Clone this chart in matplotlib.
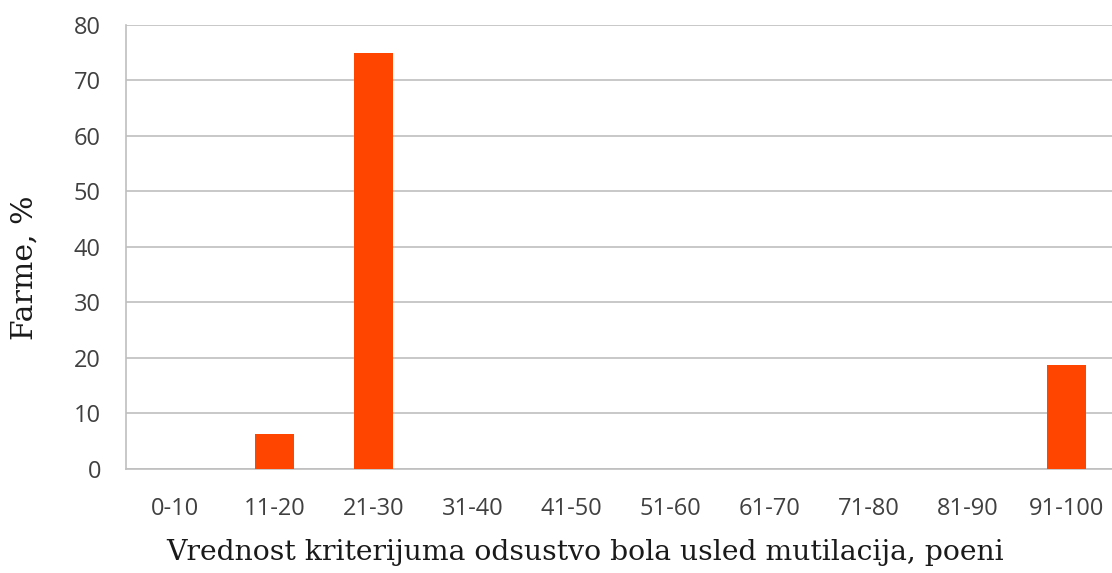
import matplotlib
matplotlib.use('Agg')
import matplotlib.pyplot as plt

categories = ['0-10', '11-20', '21-30', '31-40', '41-50', '51-60',
              '61-70', '71-80', '81-90', '91-100']
farme_pct = [0, 6.25, 75, 0, 0, 0, 0, 0, 0, 18.75]
y_ticks = [0, 10, 20, 30, 40, 50, 60, 70, 80]

fig = plt.figure(figsize=(11.12, 5.73), dpi=100)
ax = fig.add_axes([0.1133, 0.1815, 0.8903, 0.7749])

ax.bar(categories, farme_pct, width=0.4, color='#FF4500', zorder=3)

ax.set_ylim(0, 80)
ax.set_xlim(-0.5, len(categories) - 0.5)
ax.set_yticks(y_ticks)
ax.grid(axis='y', color='#BFBFBF', linewidth=1.2, zorder=0)

for side in ['top', 'right']:
    ax.spines[side].set_visible(False)
ax.spines['left'].set_color('#BFBFBF')
ax.spines['bottom'].set_color('#BFBFBF')
ax.spines['left'].set_linewidth(1.2)
ax.spines['bottom'].set_linewidth(1.2)

ax.tick_params(length=0, labelsize=17, labelcolor='#404040')
ax.tick_params(axis='x', pad=20)
ax.tick_params(axis='y', pad=18)
for lbl in ax.get_xticklabels() + ax.get_yticklabels():
    lbl.set_family('Open Sans')

ax.set_xlabel('Vrednost kriterijuma odsustvo bola usled mutilacija, poeni',
              family='DejaVu Serif', fontsize=20.3, color='#1a1a1a', va='center')
ax.xaxis.set_label_coords(0.4636, -0.189)
ax.set_ylabel('Farme, %', family='DejaVu Serif', fontsize=21.5,
              color='#1a1a1a', va='center')
ax.yaxis.set_label_coords(-0.102, 0.4527)

fig.savefig('out.png', dpi=100)
